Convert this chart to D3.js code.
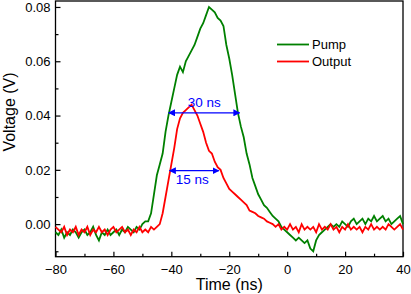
<!DOCTYPE html>
<html>
<head>
<meta charset="utf-8">
<script src="https://cdn.jsdelivr.net/npm/d3@7"></script>
<style>
  body { margin: 0; background: #fff; }
  svg { display: block; font-family: "Liberation Sans", Arial, sans-serif; }
</style>
</head>
<body>
<div id="chart"></div>
<script>
// sample grid in ns (1 ns step)
const timeStart = -80;

// pump trace (V)
const pump = [
  -0.003, -0.004, -0.002, -0.005, -0.003, -0.004, -0.002, -0.003, -0.005, -0.003,
  -0.002, -0.004, -0.003, -0.001, -0.004, -0.006, -0.003, -0.004, -0.002, -0.004,
  -0.003, -0.002, -0.004, -0.002, -0.003, -0.001, -0.002, -0.003, -0.001, -0.002,
  0.000, 0.001, 0.001, 0.004, 0.011, 0.018, 0.022, 0.026, 0.034, 0.040,
  0.045, 0.050, 0.055, 0.058, 0.056, 0.060, 0.062, 0.064, 0.066, 0.069,
  0.072, 0.074, 0.077, 0.080, 0.079, 0.078, 0.076, 0.075, 0.073, 0.066,
  0.061, 0.055, 0.048, 0.041, 0.036, 0.032, 0.026, 0.022, 0.017, 0.014,
  0.011, 0.009, 0.007, 0.006, 0.0045, 0.003, 0.002, 0.001, -0.001, -0.002,
  -0.003, -0.004, -0.005, -0.006, -0.005, -0.006, -0.007, -0.006, -0.009, -0.010,
  -0.006, -0.004, -0.003, -0.002, -0.001, 0.000, -0.001, 0.000, -0.001, 0.001,
  0.000, -0.001, 0.001, 0.002, 0.000, 0.001, 0.002, 0.000, 0.002, 0.001,
  0.003, 0.001, 0.002, 0.003, 0.001, 0.002, 0.000, 0.001, 0.002, 0.003,
  0.000
];

// output trace (V)
const output = [
  -0.001, -0.002, -0.003, -0.001, -0.004, -0.002, -0.003, -0.001, -0.004, -0.002,
  -0.003, -0.001, -0.004, -0.002, -0.003, -0.001, -0.003, -0.002, -0.004, -0.002,
  -0.001, -0.003, -0.002, -0.001, -0.003, -0.002, -0.004, -0.002, -0.003, -0.001,
  -0.003, -0.002, -0.003, -0.001, -0.002, -0.001, 0.000, 0.004, 0.010, 0.016,
  0.022, 0.028, 0.035, 0.039, 0.041, 0.042, 0.043, 0.044, 0.042, 0.040,
  0.037, 0.034, 0.030, 0.027, 0.026, 0.023, 0.021, 0.020, 0.017, 0.015,
  0.013, 0.012, 0.011, 0.010, 0.009, 0.008, 0.007, 0.005, 0.0045, 0.004,
  0.003, 0.0025, 0.002, 0.001, 0.0005, 0.000, -0.001, 0.000, -0.002, -0.001,
  -0.002, 0.000, -0.002, -0.001, -0.003, 0.000, -0.002, -0.001, -0.002, -0.001,
  -0.003, 0.000, -0.002, -0.001, -0.002, 0.000, -0.002, -0.001, -0.003, -0.001,
  -0.002, 0.000, -0.002, -0.001, -0.002, -0.001, -0.003, -0.001, -0.002, 0.000,
  -0.002, -0.001, -0.002, -0.001, -0.002, 0.000, -0.001, -0.002, -0.001, 0.000,
  -0.002
];

const xTicks = [-80, -60, -40, -20, 0, 20, 40];
const yTicks = [0.00, 0.02, 0.04, 0.06, 0.08];

// width annotations: [start ns, end ns, level V, label]
const fwhm = [
  { x0: -40.9, x1: -16.4, y: 0.041, label: "30 ns" },
  { x0: -40.6, x1: -23.6, y: 0.0197, label: "15 ns" }
];

const W = 411, H = 294;
const margin = { top: 1, right: 8, bottom: 37.3, left: 55.5 };
const width = W - margin.left - margin.right,
      height = H - margin.top - margin.bottom;

const root = d3.select("#chart").append("svg")
    .attr("width", W).attr("height", H);

// arrow marker
root.append("defs").append("marker")
    .attr("id", "arr")
    .attr("viewBox", "0 0 10 10")
    .attr("refX", 9).attr("refY", 5)
    .attr("markerWidth", 7).attr("markerHeight", 7)
    .attr("markerUnits", "userSpaceOnUse")
    .attr("orient", "auto-start-reverse")
    .append("path").attr("d", "M0,0L10,5L0,10z").attr("fill", "#0000ff");

const svg = root.append("g")
    .attr("transform", "translate(" + margin.left + "," + margin.top + ")");

const x = d3.scaleLinear().domain([-80, 40]).range([0, width]);
const y = d3.scaleLinear().domain([-0.012, 0.0822]).range([height, 0]);

// minor ticks
svg.append("g")
    .attr("transform", "translate(0," + height + ")")
    .call(d3.axisBottom(x).tickValues(d3.range(-70, 40, 20)).tickSize(-3).tickFormat(""))
    .call(g => g.select(".domain").remove());
svg.append("g")
    .call(d3.axisLeft(y).tickValues([-0.01, 0.01, 0.03, 0.05, 0.07]).tickSize(-3).tickFormat(""))
    .call(g => g.select(".domain").remove());

// major ticks
svg.append("g")
    .attr("transform", "translate(0," + height + ")")
    .call(d3.axisBottom(x).tickValues(xTicks).tickSize(-5).tickPadding(8).tickFormat(d3.format("d")))
    .call(g => g.select(".domain").remove())
    .call(g => g.selectAll("text").attr("font-size", "13px").attr("fill", "#000").style("font-family", "inherit"));
svg.append("g")
    .call(d3.axisLeft(y).tickValues(yTicks).tickSize(-5).tickPadding(5).tickFormat(d3.format(".2f")))
    .call(g => g.select(".domain").remove())
    .call(g => g.selectAll("text").attr("font-size", "13px").attr("fill", "#000").style("font-family", "inherit"));
svg.selectAll(".tick line").attr("stroke", "#000").attr("stroke-width", 1.2);

// frame
svg.append("rect")
    .attr("width", width).attr("height", height)
    .attr("fill", "none").attr("stroke", "#000").attr("stroke-width", 1.3);

// traces
const line = d3.line()
    .x((d, i) => x(timeStart + i))
    .y(d => y(d));

svg.append("path").datum(pump)
    .attr("d", line).attr("fill", "none")
    .attr("stroke", "#008000").attr("stroke-width", 1.8);
svg.append("path").datum(output)
    .attr("d", line).attr("fill", "none")
    .attr("stroke", "#ff0000").attr("stroke-width", 1.8);

// width arrows
fwhm.forEach((a, i) => {
  svg.append("line")
      .attr("x1", x(a.x0)).attr("x2", x(a.x1))
      .attr("y1", y(a.y)).attr("y2", y(a.y))
      .attr("stroke", "#0000ff").attr("stroke-width", 1.2)
      .attr("marker-start", "url(#arr)").attr("marker-end", "url(#arr)");
  svg.append("text")
      .attr("x", (x(a.x0) + x(a.x1)) / 2 + (i === 0 ? 0 : -2))
      .attr("y", i === 0 ? y(a.y) - 6 : y(a.y) + 13)
      .attr("text-anchor", "middle")
      .attr("font-size", "13.5px")
      .attr("fill", "#0000ff")
      .text(a.label);
});

// legend
const legend = [
  { name: "Pump", color: "#008000" },
  { name: "Output", color: "#ff0000" }
];
legend.forEach((l, i) => {
  const ly = 44.5 + i * 17 - margin.top;
  svg.append("line")
      .attr("x1", 277 - margin.left).attr("x2", 309 - margin.left)
      .attr("y1", ly).attr("y2", ly)
      .attr("stroke", l.color).attr("stroke-width", 1.8);
  svg.append("text")
      .attr("x", 312 - margin.left).attr("y", ly + 4.5)
      .attr("font-size", "13px")
      .text(l.name);
});

// axis titles
svg.append("text")
    .attr("x", width / 2).attr("y", height + 33.5)
    .attr("text-anchor", "middle")
    .attr("font-size", "16px")
    .text("Time (ns)");
svg.append("text")
    .attr("transform", "rotate(-90)")
    .attr("x", -112 + margin.top).attr("y", 14.5 - margin.left)
    .attr("text-anchor", "middle")
    .attr("font-size", "16px")
    .text("Voltage (V)");
</script>
</body>
</html>
